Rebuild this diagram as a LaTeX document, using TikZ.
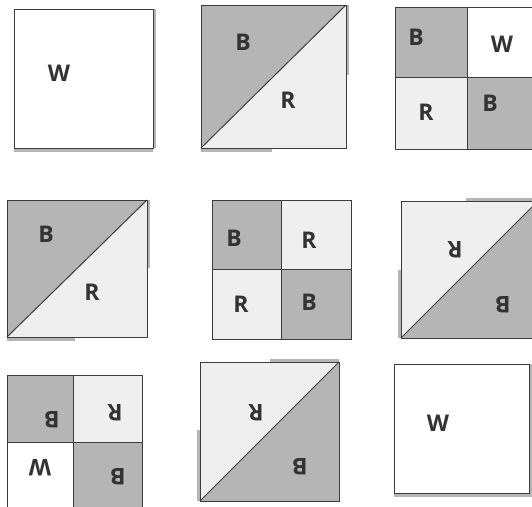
\documentclass[tikz,border=0pt]{standalone}
\usepackage{fontspec}
\setsansfont{Open Sans}
\usetikzlibrary{positioning}

\definecolor{patchdark}{HTML}{B5B5B5}
\definecolor{patchlight}{HTML}{EFEFEF}
\definecolor{seam}{HTML}{3C3C3C}

\begin{document}
\begin{tikzpicture}[x=1pt,y=-1pt,
    dark/.style={fill=patchdark},
    light/.style={fill=patchlight},
    seamline/.style={draw=seam,line width=1pt},
    lbl/.style={font=\sffamily\bfseries\fontsize{23}{23}\selectfont,text=black!80},
    flip/.style={lbl,rotate=180}]

\useasboundingbox (0,0) rectangle (532,506);
\clip (0,0) rectangle (532,506);

% Block 1: plain white
\fill[dark] (14,148) rectangle (153,152); % next piece
\fill[dark] (153,9) rectangle (156,148);
\draw[seamline] (14,9) rectangle (153,148);
\node[lbl] (w1) at (59,73) {W};

% Block 2: half square, B over R
\fill[dark] (346,5) rectangle (349,75);
\fill[dark] (201,148) rectangle (272,152);
\fill[dark] (201,5) -- (346,5) -- (201,148) -- cycle;
\fill[light] (346,5) -- (346,148) -- (201,148) -- cycle;
\draw[seamline] (201,5) rectangle (346,148);
\draw[seamline] (201,148) -- (346,5);
\node[lbl] (b2) at (243,42) {B};
\node[lbl] (r2) at (288,100) {R};

% Block 3: four patch B W / R B
\fill[dark] (395,7) rectangle (467,77);
\fill[white] (467,7) rectangle (538,77);
\fill[light] (395,77) rectangle (467,149);
\fill[dark] (467,77) rectangle (538,149);
\draw[seamline] (395,7) rectangle (538,149);
\draw[seamline] (467,7) -- (467,149);
\draw[seamline] (395,77) -- (538,77);
\node[lbl] (b3a) at (416,37) {B};
\node[lbl] (w3) at (502,44) {W};
\node[lbl] (r3) at (426,112) {R};
\node[lbl] (b3b) at (490,103) {B};

% Block 4: half square, B over R
\fill[dark] (147,200) rectangle (150,268);
\fill[dark] (7,337) rectangle (75,341);
\fill[dark] (7,200) -- (147,200) -- (7,337) -- cycle;
\fill[light] (147,200) -- (147,337) -- (7,337) -- cycle;
\draw[seamline] (7,200) rectangle (147,337);
\draw[seamline] (7,337) -- (147,200);
\node[lbl] (b4) at (46,234) {B};
\node[lbl] (r4) at (92,292) {R};

% Block 5: four patch B R / R B
\fill[dark] (212,200) rectangle (281,269);
\fill[light] (281,200) rectangle (351,269);
\fill[light] (212,269) rectangle (281,339);
\fill[dark] (281,269) rectangle (351,339);
\draw[seamline] (212,200) rectangle (351,339);
\draw[seamline] (281,200) -- (281,339);
\draw[seamline] (212,269) -- (351,269);
\node[lbl] (b5a) at (234,238) {B};
\node[lbl] (r5a) at (309,240) {R};
\node[lbl] (r5b) at (241,304) {R};
\node[lbl] (b5b) at (309,302) {B};

% Block 6: half square turned, R over B
\fill[dark] (466,198) rectangle (538,201);
\fill[dark] (398,270) rectangle (401,338);
\fill[light] (401,201) -- (538,201) -- (401,338) -- cycle;
\fill[dark] (538,201) -- (538,338) -- (401,338) -- cycle;
\draw[seamline] (401,201) rectangle (538,338);
\draw[seamline] (401,338) -- (538,201);
\node[flip] (r6) at (455,250) {R};
\node[flip] (b6) at (503,305) {B};

% Block 7: four patch turned, B R / W B
\fill[dark] (7,375) rectangle (73,442);
\fill[light] (73,375) rectangle (142,442);
\fill[white] (7,442) rectangle (73,510);
\fill[dark] (73,442) rectangle (142,510);
\draw[seamline] (7,375) rectangle (142,510);
\draw[seamline] (73,375) -- (73,510);
\draw[seamline] (7,442) -- (142,442);
\node[flip] (b7a) at (52,420) {B};
\node[flip] (r7) at (115,413) {R};
\node[flip] (w7) at (40,468) {W};
\node[flip] (b7b) at (118,477) {B};

% Block 8: half square turned, R over B
\fill[dark] (270,359) rectangle (339,362);
\fill[dark] (197,430) rectangle (200,501);
\fill[light] (200,362) -- (339,362) -- (200,501) -- cycle;
\fill[dark] (339,362) -- (339,501) -- (200,501) -- cycle;
\draw[seamline] (200,362) rectangle (339,501);
\draw[seamline] (200,501) -- (339,362);
\node[flip] (r8) at (256,413) {R};
\node[flip] (b8) at (300,467) {B};

% Block 9: plain white
\fill[dark] (394,493) rectangle (532,497);
\fill[dark] (529,364) rectangle (532,493);
\draw[seamline] (394,364) rectangle (529,493);
\node[lbl] (w9) at (438,423) {W};

\end{tikzpicture}
\end{document}
